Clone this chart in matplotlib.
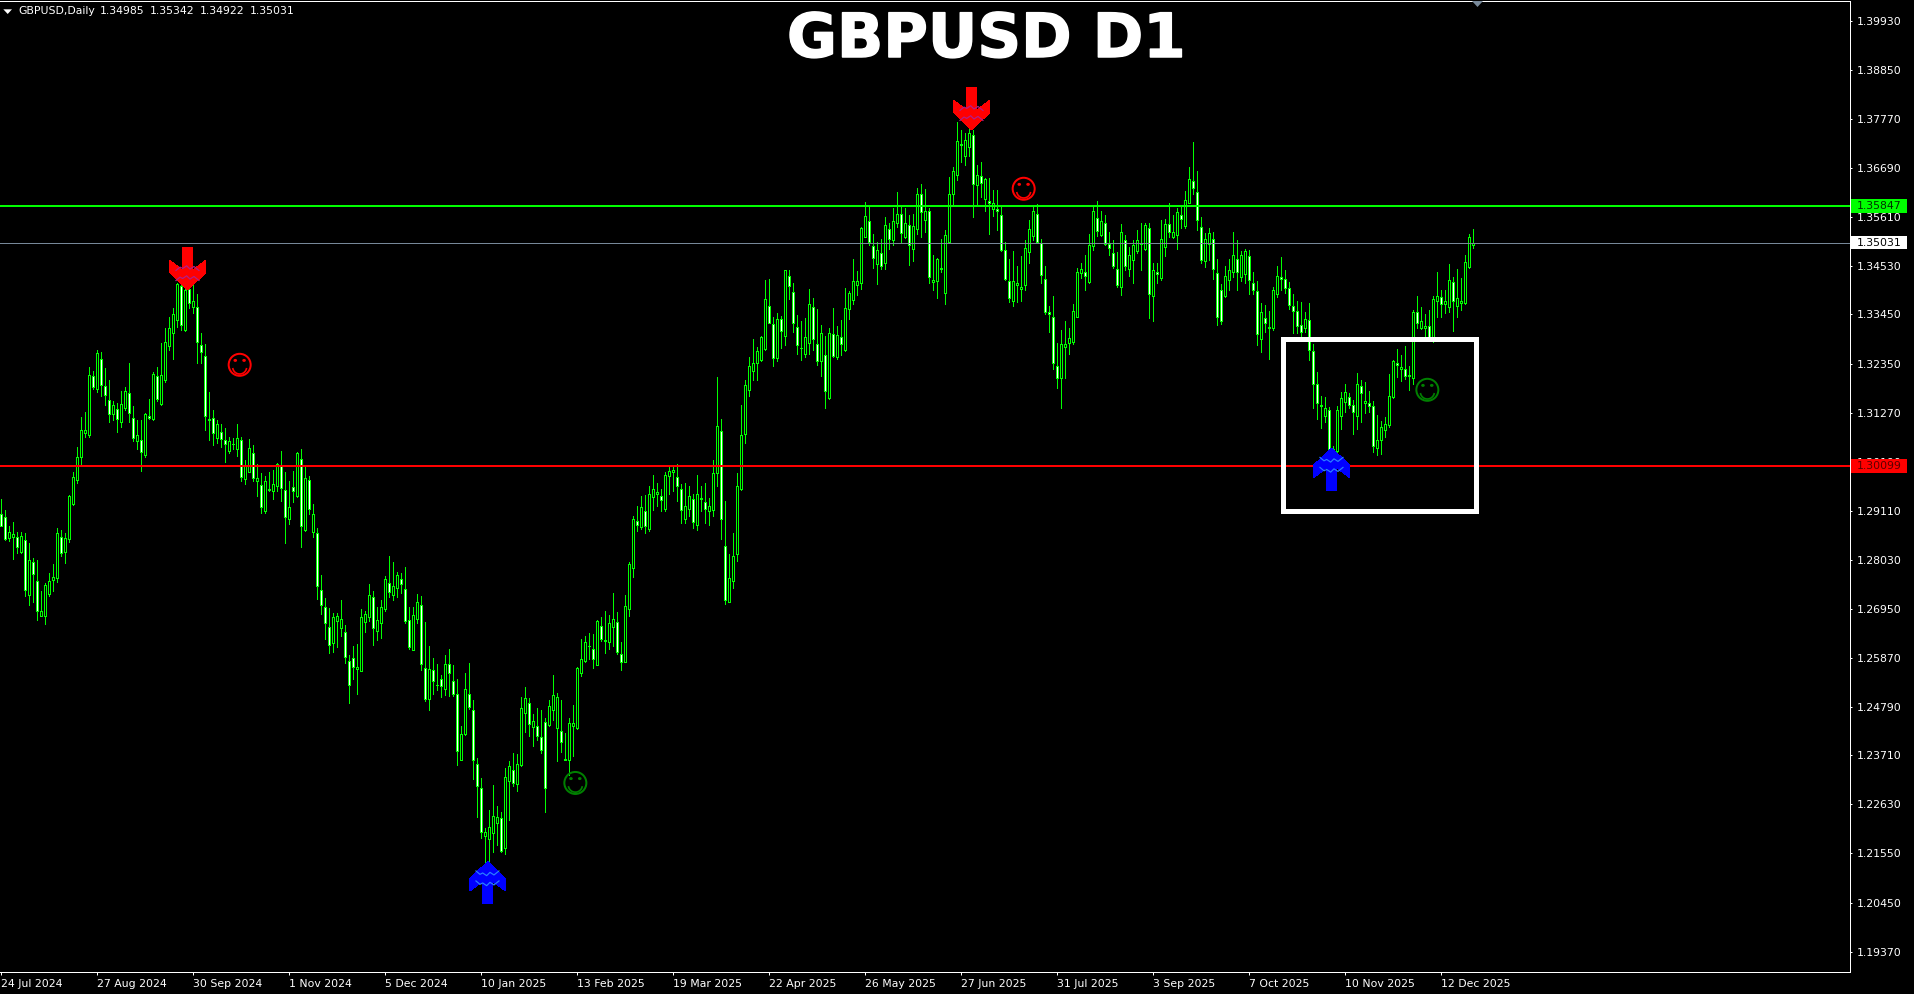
import numpy as np
import matplotlib
matplotlib.use("Agg")
import matplotlib.pyplot as plt
import matplotlib.patheffects as pe
from matplotlib.patches import Polygon, Rectangle, Circle, Ellipse
from matplotlib.transforms import Affine2D, IdentityTransform, blended_transform_factory

# Prices in pips (price x 10000), one value per daily bar
highs_pips = [
12938,12913,12878,12887,12865,12865,12862,12840,12808,12803,
12734,12751,12773,12794,12873,12869,12863,12946,12996,13052,
13118,13129,13229,13221,13266,13261,13226,13200,13154,13149,
13176,13184,13238,13142,13111,13111,13127,13158,13217,13229,
13282,13315,13340,13359,13414,13410,13410,13407,13410,13390,
13304,13280,13173,13134,13112,13103,13094,13075,13072,13103,
13075,13024,13069,13056,13014,12994,12988,12997,13002,13016,
13043,12998,12978,13000,13042,13047,13008,12988,12926,12873,
12769,12718,12696,12685,12685,12714,12660,12593,12613,12616,
12694,12691,12750,12734,12698,12715,12768,12812,12798,12776,
12773,12787,12698,12698,12727,12724,12666,12613,12586,12574,
12549,12593,12607,12570,12540,12435,12552,12575,12494,12365,
12321,12211,12251,12306,12260,12245,12343,12359,12376,12375,
12500,12522,12498,12463,12476,12472,12454,12493,12549,12509,
12494,12420,12454,12482,12566,12628,12635,12641,12639,12671,
12677,12691,12682,12730,12688,12621,12726,12798,12900,12922,
12944,12947,12966,12991,12972,12959,12997,13008,13008,13015,
12971,12973,12966,12948,12990,12967,12972,12939,13024,13207,
13114,12933,12816,12862,12994,13145,13201,13251,13290,13273,
13298,13422,13424,13339,13348,13341,13444,13443,13414,13344,
13331,13338,13401,13381,13357,13322,13298,13315,13359,13319,
13333,13403,13396,13467,13441,13537,13593,13583,13523,13506,
13512,13560,13546,13579,13615,13583,13579,13565,13566,13624,
13632,13621,13579,13476,13469,13512,13532,13648,13670,13769,
13752,13745,13756,13752,13675,13681,13647,13647,13619,13619,
13583,13504,13467,13484,13451,13474,13509,13554,13583,13588,
13512,13452,13364,13386,13281,13311,13330,13314,13368,13447,
13458,13476,13523,13583,13596,13574,13565,13528,13509,13483,
13545,13520,13495,13509,13532,13546,13548,13548,13458,13458,
13554,13556,13590,13565,13579,13582,13618,13670,13725,13661,
13560,13524,13535,13526,13467,13412,13451,13467,13526,13509,
13484,13489,13487,13439,13419,13370,13366,13352,13406,13453,
13471,13443,13417,13390,13375,13373,13351,13370,13280,13218,
13165,13162,13140,13054,13143,13173,13191,13171,13156,13215,
13200,13195,13176,13154,13123,13110,13118,13213,13244,13269,
13255,13275,13230,13355,13386,13361,13346,13355,13386,13438,
13398,13399,13456,13427,13445,13425,13476,13522,13534.2]

lows_pips = [
12877,12847,12845,12805,12819,12819,12724,12703,12709,12671,
12678,12662,12724,12735,12755,12812,12797,12843,12923,12973,
13013,13075,13075,13180,13173,13164,13145,13108,13112,13086,
13097,13134,13108,13065,13047,13000,13030,13113,13111,13153,
13145,13195,13267,13247,13318,13311,13309,13359,13349,13237,
13237,13090,13068,13057,13061,13053,13018,13040,13047,13033,
12976,12971,12996,12976,12943,12906,12907,12954,12938,12955,
12934,12841,12882,12931,12941,12832,12867,12905,12854,12717,
12684,12628,12597,12600,12611,12635,12575,12486,12540,12506,
12557,12643,12667,12615,12626,12630,12690,12722,12715,12720,
12729,12663,12606,12603,12663,12560,12492,12472,12507,12516,
12499,12505,12503,12503,12350,12360,12417,12474,12320,12236,
12189,12132,12135,12157,12174,12157,12154,12228,12304,12292,
12347,12423,12413,12391,12406,12376,12247,12437,12450,12359,
12378,12360,12328,12370,12430,12546,12577,12585,12563,12570,
12624,12597,12605,12612,12596,12559,12577,12678,12766,12866,
12871,12862,12866,12912,12921,12910,12911,12949,12954,12934,
12885,12884,12900,12873,12869,12910,12885,12880,12899,12967,
12849,12706,12709,12740,12801,12958,13061,13164,13201,13201,
13243,13267,13326,13232,13243,13271,13278,13380,13307,13258,
13245,13252,13258,13267,13234,13210,13139,13159,13252,13247,
13256,13265,13334,13368,13388,13401,13515,13498,13448,13413,
13445,13445,13490,13498,13539,13505,13513,13454,13464,13522,
13515,13526,13414,13399,13381,13439,13368,13504,13589,13642,
13682,13675,13694,13561,13587,13605,13574,13523,13563,13532,
13484,13421,13373,13364,13373,13375,13399,13459,13509,13504,
13414,13347,13307,13224,13183,13139,13204,13258,13280,13339,
13425,13398,13415,13487,13519,13519,13498,13476,13447,13405,
13388,13443,13430,13414,13480,13443,13487,13336,13331,13414,
13420,13474,13517,13513,13490,13535,13535,13590,13611,13532,
13458,13449,13465,13423,13322,13324,13384,13399,13428,13399,
13419,13414,13390,13390,13277,13261,13307,13247,13311,13384,
13399,13392,13358,13303,13303,13296,13307,13244,13139,13114,
13095,13108,13031,13031,13042,13092,13130,13139,13081,13093,
13107,13127,13129,13042,13034,13037,13075,13096,13160,13206,
13199,13202,13178,13191,13316,13312,13296,13289,13285,13340,
13340,13349,13351,13309,13339,13355,13369,13448,13492.2]

opens_pips = [
12905,12897,12851,12854,12854,12821,12846,12726,12798,12757,
12678,12680,12728,12758,12762,12853,12821,12849,12927,12980,
13030,13084,13079,13209,13181,13246,13187,13155,13125,13136,
13108,13139,13171,13117,13065,13067,13035,13120,13113,13209,
13148,13200,13276,13305,13333,13407,13310,13401,13361,13361,
13278,13253,13111,13116,13071,13086,13067,13044,13059,13047,
13067,12981,12997,13039,12976,12968,12910,12957,12954,12965,
13011,12957,12894,12963,12945,13025,12868,12980,12865,12862,
12736,12698,12654,12619,12667,12652,12644,12580,12586,12561,
12557,12666,12677,12720,12645,12663,12695,12751,12726,12740,
12760,12738,12670,12603,12673,12704,12564,12496,12560,12527,
12540,12518,12573,12535,12507,12360,12419,12507,12471,12352,
12299,12192,12186,12199,12222,12233,12166,12314,12339,12309,
12349,12464,12487,12433,12437,12412,12445,12438,12471,12431,
12426,12360,12362,12435,12431,12553,12579,12612,12605,12571,
12656,12626,12621,12655,12666,12595,12578,12695,12785,12888,
12875,12910,12871,12941,12948,12944,12916,12988,12996,12986,
12959,12893,12915,12938,12881,12940,12930,12910,12912,12994,
13087,12833,12709,12757,12815,12959,13080,13177,13219,13237,
13244,13268,13363,13324,13248,13335,13297,13429,13394,13318,
13271,13257,13282,13361,13279,13242,13255,13160,13302,13252,
13295,13266,13357,13377,13409,13414,13517,13551,13497,13457,
13480,13459,13533,13510,13546,13566,13517,13542,13490,13534,
13610,13554,13573,13416,13418,13447,13393,13504,13610,13652,
13722,13695,13714,13741,13630,13650,13599,13595,13577,13578,
13564,13487,13418,13375,13411,13402,13409,13482,13519,13566,
13502,13423,13350,13340,13230,13204,13272,13281,13284,13339,
13436,13438,13416,13496,13559,13521,13546,13500,13480,13446,
13405,13510,13445,13466,13486,13500,13490,13535,13386,13438,
13425,13495,13544,13517,13520,13564,13541,13592,13639,13615,
13537,13462,13501,13511,13436,13398,13386,13420,13438,13467,
13428,13434,13473,13414,13396,13290,13336,13318,13314,13391,
13427,13424,13403,13363,13352,13321,13316,13332,13264,13191,
13146,13121,13133,13048,13044,13121,13152,13162,13146,13121,
13187,13150,13149,13142,13049,13067,13090,13101,13162,13237,
13225,13224,13208,13205,13350,13316,13314,13319,13289,13375,
13383,13367,13361,13417,13364,13371,13370,13450,13498.5]

closes_pips = [
12877,12849,12864,12860,12832,12855,12736,12802,12771,12689,
12689,12747,12756,12765,12862,12819,12851,12944,12986,13030,
13089,13089,13211,13184,13259,13189,13166,13125,13145,13114,
13147,13176,13127,13072,13078,13041,13125,13117,13213,13158,
13211,13284,13315,13346,13413,13321,13399,13370,13374,13283,
13263,13120,13114,13083,13103,13069,13058,13065,13058,13072,
12987,13011,13050,12983,12983,12919,12976,12959,12970,13015,
12961,12897,12919,12955,13039,12877,12983,12915,12904,12745,
12704,12663,12614,12676,12679,12672,12588,12526,12566,12566,
12677,12683,12725,12652,12670,12698,12760,12731,12746,12769,
12749,12669,12611,12681,12709,12573,12496,12562,12535,12526,
12524,12573,12552,12507,12381,12418,12518,12477,12361,12303,
12202,12202,12213,12237,12235,12159,12323,12347,12311,12352,
12476,12498,12440,12446,12415,12384,12300,12480,12504,12500,
12401,12364,12443,12443,12564,12583,12621,12613,12584,12668,
12629,12623,12663,12672,12599,12577,12700,12793,12893,12880,
12919,12878,12948,12959,12952,12935,12990,12999,13001,12965,
12912,12921,12943,12886,12948,12938,12915,12921,12994,13098,
12893,12715,12762,12811,12966,13078,13189,13231,13237,13264,
13295,13379,13327,13248,13335,13308,13442,13407,13327,13277,
13270,13295,13367,13290,13243,13304,13176,13304,13254,13299,
13279,13359,13392,13418,13418,13535,13562,13506,13469,13487,
13453,13542,13512,13551,13566,13524,13546,13498,13540,13610,
13572,13574,13427,13420,13467,13445,13520,13610,13661,13727,
13719,13730,13745,13632,13652,13635,13643,13590,13592,13574,
13488,13423,13382,13418,13414,13405,13491,13533,13573,13504,
13431,13351,13347,13237,13204,13279,13280,13294,13353,13438,
13446,13429,13498,13573,13529,13552,13500,13491,13453,13411,
13526,13451,13476,13498,13510,13502,13542,13391,13442,13434,
13511,13544,13526,13528,13571,13556,13597,13643,13624,13553,
13466,13511,13524,13445,13340,13331,13430,13442,13476,13438,
13476,13484,13420,13400,13301,13350,13327,13316,13400,13429,
13423,13403,13366,13353,13320,13307,13334,13266,13191,13149,
13143,13138,13042,13044,13135,13160,13173,13146,13130,13191,
13171,13154,13143,13055,13068,13096,13102,13164,13242,13233,
13229,13210,13211,13351,13325,13331,13319,13296,13378,13385,
13369,13374,13420,13374,13381,13374,13460,13515,13503.1]

date_labels = ["24 Jul 2024", "27 Aug 2024", "30 Sep 2024", "1 Nov 2024", "5 Dec 2024",
               "10 Jan 2025", "13 Feb 2025", "19 Mar 2025", "22 Apr 2025", "26 May 2025",
               "27 Jun 2025", "31 Jul 2025", "3 Sep 2025", "7 Oct 2025", "10 Nov 2025",
               "12 Dec 2025"]
price_ticks = [1.39930, 1.38850, 1.37770, 1.36690, 1.35610, 1.34530, 1.33450, 1.32350,
               1.31270, 1.30190, 1.29110, 1.28030, 1.26950, 1.25870, 1.24790, 1.23710,
               1.22630, 1.21550, 1.20450, 1.19370]

resistance = 1.35847
support = 1.30099
last_close = 1.35031
box_bars = (320.5, 368.9)
box_prices = (1.29100, 1.32900)
sell_arrows = ([46.75, 242.75], [1.33994, 1.37529])
buy_arrows = ([121.75, 332.75], [1.21364, 1.30497])
red_smiles = ([59.75, 255.75], [1.32337, 1.36225])
green_smiles = ([143.67, 356.67], [1.23102, 1.31785])
header_values = ["1.34985", "1.35342", "1.34922", "1.35031"]

W, H = 1914, 994
BG = "#000000"
GREEN = "#00FF00"
PX = 0.72  # one pixel in points at dpi 100

highs = np.array(highs_pips) / 1e4
lows = np.array(lows_pips) / 1e4
opens = np.array(opens_pips) / 1e4
closes = np.array(closes_pips) / 1e4
bars = np.arange(len(closes))

plt.rcParams["font.family"] = "DejaVu Sans"
fig = plt.figure(figsize=(W / 100, H / 100), dpi=100, facecolor=BG)
ax = fig.add_axes([0, (H - 971.5) / H, 1850 / W, (971.5 - 1) / H], facecolor=BG)
ax.set_xlim(-0.167, 462.33)
ax.set_ylim(1.18938, 1.40372)

# candles
ax.vlines(bars, lows, highs, color=GREEN, lw=PX, antialiased=False, zorder=2)
tops = np.maximum(opens, closes)
bots = np.minimum(opens, closes)
faces = ["#FFFFFF" if c < o else "#000000" for o, c in zip(opens, closes)]
ax.bar(bars, tops - bots, width=0.5, bottom=bots, color=faces, edgecolor=GREEN,
       linewidth=PX, antialiased=False, zorder=3)

# horizontal levels
ax.axhline(last_close, color="#778899", lw=PX, zorder=4, antialiased=False)
ax.axhline(resistance, color=GREEN, lw=2 * PX, zorder=5, antialiased=False)
ax.axhline(support, color="#FF0000", lw=2 * PX, zorder=5, antialiased=False)

# framed zone
ax.add_patch(Rectangle((box_bars[0], box_prices[0]), box_bars[1] - box_bars[0],
                       box_prices[1] - box_prices[0], fill=False, edgecolor="#FFFFFF",
                       lw=5 * PX, joinstyle="miter", antialiased=False, zorder=6))

fig.canvas.draw()


def anchor(x, y):
    return Affine2D().translate(*ax.transData.transform((x, y)))


ARROW = np.array([(0, 0), (17.7, 16.7), (17.7, 29.3), (4.4, 19.3), (4.4, 42), (-4.7, 42),
                  (-4.7, 19.3), (-17.7, 29.3), (-17.7, 16.7)])
ZIG = np.array([(-11.7, 19.3), (-7.7, 22.7), (-5, 21.3), (-1, 24), (2.3, 20.7),
                (6.3, 23.3), (11.3, 19.3)])


def draw_arrow(x, y, flip, fill, zig):
    sign = -1 if flip else 1
    tr = anchor(x, y)
    poly = ARROW * [1, sign]
    ax.add_patch(Polygon(poly, closed=True, facecolor=fill, edgecolor="none",
                         transform=tr, antialiased=False, zorder=8, clip_on=False))
    for dy in (0, -10):
        pts = (ZIG + [0, dy]) * [1, sign]
        ax.plot(pts[:, 0], pts[:, 1], color=zig, lw=1.2 * PX, transform=tr, zorder=9,
                clip_on=False, scalex=False, scaley=False)


for x, y in zip(*sell_arrows):
    draw_arrow(x, y, False, "#FF0000", "#B01E8C")
for x, y in zip(*buy_arrows):
    draw_arrow(x, y, True, "#0000FF", "#2B7FFF")


def draw_smile(x, y, color):
    tr = anchor(x, y)
    ax.add_patch(Circle((0, 0), 11, fill=False, edgecolor=color, lw=2 * PX,
                        transform=tr, zorder=8))
    for ex in (-4.4, 4.4):
        ax.add_patch(Ellipse((ex, 4.4), 3.6, 3.0, facecolor=color, edgecolor="none",
                             transform=tr, zorder=8))
    t = np.linspace(np.radians(195), np.radians(345), 30)
    ax.plot(7.0 * np.cos(t), 7.0 * np.sin(t) - 2.2, color=color, lw=1.7 * PX, transform=tr,
            zorder=8, scalex=False, scaley=False)


for x, y in zip(*red_smiles):
    draw_smile(x, y, "#FF0000")
for x, y in zip(*green_smiles):
    draw_smile(x, y, "#008000")

# axes frame
ax.spines["left"].set_visible(False)
for side in ("top", "right", "bottom"):
    ax.spines[side].set_color("#FFFFFF")
    ax.spines[side].set_linewidth(PX)

SMALL = 7.85
ax.set_xticks(np.arange(len(date_labels)) * 24)
ax.set_xticklabels(date_labels, ha="left", fontsize=SMALL, color="#FFFFFF")
ax.tick_params(axis="x", length=3 * PX, width=PX, color="#FFFFFF", pad=3)
ax.yaxis.tick_right()
ax.set_yticks(price_ticks)
ax.set_yticklabels([f"{p:.5f}" for p in price_ticks], fontsize=SMALL, color="#FFFFFF")
ax.tick_params(axis="y", length=2 * PX, width=PX, color="#FFFFFF", pad=3.6)

# price tags on the axis
blend = blended_transform_factory(IdentityTransform(), ax.transData)
for price, face, txt_col in ((resistance, GREEN, "#003000"), (last_close, "#FFFFFF", "#000000"),
                             (support, "#FF0000", "#5A0000")):
    ax.add_patch(Rectangle((1851, price - 0.00147), 56.3, 0.00294, facecolor=face,
                           edgecolor="none", transform=blend, clip_on=False, zorder=10,
                           antialiased=False))
    ax.text(1857, price, f"{price:.5f}", color=txt_col, fontsize=SMALL, va="center", ha="left",
            transform=blend, clip_on=False, zorder=11)


def top_text(x, y, s, **kw):
    return fig.text(x / W, 1 - y / H, s, **kw)


# header
fig.add_artist(Polygon([(3.3, H - 9.3), (12, H - 9.3), (7.7, H - 14)], closed=True,
                       facecolor="#FFFFFF", edgecolor="none", transform=IdentityTransform()))
top_text(18, 11.5, "GBPUSD,Daily", color="#FFFFFF", fontsize=SMALL, va="center", ha="left")
for hx, val in zip((100, 150, 200, 250), header_values):
    top_text(hx, 11.5, val, color="#FFFFFF", fontsize=SMALL, va="center", ha="left")

# chart-shift marker
fig.add_artist(Polygon([(1472, H - 1), (1483, H - 1), (1477.5, H - 7)], closed=True,
                       facecolor="#778899", edgecolor="none", transform=IdentityTransform()))

# title
title = top_text(986.5, 57, "GBPUSD D1", color="#FFFFFF", fontsize=43.8, fontweight="bold",
                 family="DejaVu Sans", va="baseline", ha="center")
title.set_path_effects([pe.withStroke(linewidth=1.5 * PX, foreground="#FFFFFF")])

fig.savefig("out.png", dpi=100, facecolor=BG)
